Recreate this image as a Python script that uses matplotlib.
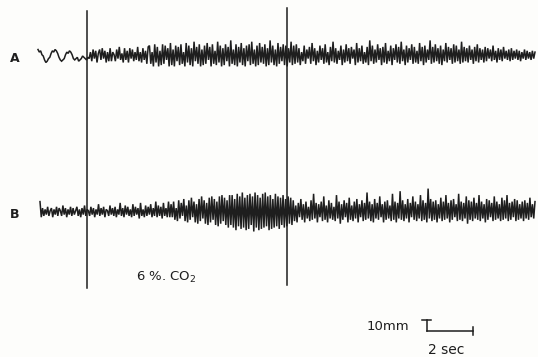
import numpy as np
import matplotlib
matplotlib.use("Agg")
import matplotlib.pyplot as plt

# Deflections (px, up positive)
trace_a = [5,3,4,1,0,-3,-5,-4,-2,-1,2,4,3,5,4,2,-1,-3,-4,-3,-2,1,3,2,4,3,1,-2,-3,-2,-1,-4,-3,-2,0,-1,-2,-3,-1,-2,
           3,-4,5,-2,4,-5,2,5,-3,6,-2,4,-5,3,-4,6,-4,3,1,-4,5,-2,7,-3,2,-5,6,-3,4,-5,6,-2,5,-4,3,-3,7,-4,3,-5,6,-3,4,-6,7,
           8,-6,3,-8,9,-5,7,-8,4,-7,9,-6,8,-3,6,-8,10,-7,5,-8,8,-4,7,-7,9,-6,3,-8,10,-5,8,-7,6,-8,11,-4,7,-6,9,-8,5,-7,8,-6,10,-3,7,-8,9,-6,4,-7,11,-5,8,-8,6,-7,9,-4,7,-8,12,-6,5,-7,9,-8,7,-5,10,-7,6,-8,8,-4,9,-7,11,-6,5,-8,8,-7,10,-5,7,-6,9,-8,6,-7,12,-5,8,-7,5,-8,10,-6,7,-4,9,-7,8,-8,6,-5,11,-7,8,-6,
           9,-5,6,-7,3,-4,8,-6,5,-2,7,-6,10,-4,6,-7,4,-5,8,-3,6,-6,9,-5,3,-7,7,-4,11,-5,6,-6,4,-3,8,-7,5,-5,9,-4,6,-6,7,-2,5,-7,10,-5,6,-4,8,-6,3,-5,7,-7,12,-4,8,-6,5,-5,9,-3,6,-7,7,-5,10,-6,4,-4,8,-7,6,-3,9,-5,7,-6,11,-4,5,-7,8,-5,6,-3,9,-6,7,-5,4,-6,10,-4,7,-7,8,-5,5,-3,12,-6,7,-5,9,-4,6,-6,8,-7,5,-4,10,-5,7,-3,6,-6,9,-5,8,-4,5,-6,11,-5,7,-4,6,-5,8,-3,5,-6,7,-4,9,-5,6,-3,5,-5,7,-4,6,-2,5,-4,8,-3,4,-5,6,-3,5,-4,7,-2,4,-3,5,-4,6,-3,4,-2,5,-3,4,-4,3,-2,5,-3,4,-2,3,-3,4,-2,3]
trace_b = [8,-4,3,-3,2,-2,4,-3,1,3,-4,2,-2,4,-3,3,1,-3,5,-2,3,-4,2,-2,4,-3,3,-2,1,4,-3,2,-4,3,-2,5,-3,2,1,-3,4,-2,3,-4,2,-2,6,-3,3,-2,4,-4,2,1,-3,5,-2,3,-3,4,-4,2,-2,7,-3,3,-4,5,-2,4,-3,2,-4,6,-3,4,-2,3,-5,7,-3,2,-4,5,-3,4,-2,6,-4,3,-3,8,-4,5,-3,4,-5,7,-3,3,-4,8,-4,
           6,-4,8,-6,3,-7,9,-5,7,-3,10,-7,5,-8,9,-6,11,-4,8,-8,6,-9,10,-7,12,-5,9,-9,7,-10,11,-8,12,-6,10,-10,8,-11,12,-9,13,-7,11,-10,9,-12,13,-10,
           13,-12,10,-14,14,-11,12,-13,15,-12,11,-14,13,-13,14,-10,12,-15,15,-12,13,-14,11,-13,14,-12,15,-11,12,-14,13,-13,10,-12,14,-11,12,-13,11,-10,13,-12,10,-11,12,-9,11,-10,
           9,-7,5,-8,7,-4,10,-6,6,-8,8,-5,4,-7,9,-6,14,-5,7,-8,6,-4,8,-7,12,-6,5,-8,9,-5,7,-6,4,-7,13,-5,8,-9,6,-6,9,-4,7,-8,11,-6,5,-7,8,-5,10,-8,6,-4,9,-7,7,-6,15,-5,8,-7,6,-8,10,-5,7,-6,12,-4,6,-8,8,-6,9,-5,5,-7,14,-6,8,-8,7,-5,16,-6,9,-7,6,-5,10,-8,7,-4,12,-6,8,-7,6,-5,13,-7,9,-6,7,-8,18,-5,10,-7,8,-6,9,-8,6,-5,11,-7,8,-6,13,-5,7,-8,9,-6,10,-4,6,-7,14,-6,8,-7,7,-5,12,-9,9,-6,8,-7,11,-5,7,-6,13,-7,8,-5,6,-8,10,-6,9,-4,7,-7,12,-6,8,-5,6,-7,11,-6,9,-5,13,-7,7,-6,8,-4,10,-7,9,-6,6,-5,8,-7,9,-5,7,-6,11,-4,6,-5,8]
trace_labels = ["A", "B"]
gas_label = "6 %. CO$_2$"
scale_v_label = "10mm"
scale_h_label = "2 sec"

W, H = 538, 357
GAIN = 1.3
fig = plt.figure(figsize=(W/100, H/100), dpi=100)
fig.patch.set_facecolor("#fdfdfb")
ax = fig.add_axes([0, 0, 1, 1])
ax.set_xlim(0, W)
ax.set_ylim(H, 0)
ax.axis("off")
ink = "#1e1e1e"

for vals, base, x0, x1 in [(trace_a, 56, 38, 535), (trace_b, 212, 40, 535)]:
    v = np.array(vals, dtype=float) * GAIN
    x = np.linspace(x0, x1, len(v))
    ax.plot(x, base - v, color=ink, lw=1.1, solid_joinstyle="miter")

ax.plot([87, 87], [11, 288], color=ink, lw=1.1)
ax.plot([287, 287], [8, 285], color=ink, lw=1.1)

ax.text(15, 59, trace_labels[0], fontsize=9, fontweight="bold", color=ink, ha="center", va="center")
ax.text(15, 215, trace_labels[1], fontsize=9, fontweight="bold", color=ink, ha="center", va="center")
ax.text(136, 277, gas_label, fontsize=9.5, color=ink, ha="left", va="center")
ax.text(367, 327, scale_v_label, fontsize=9.5, color=ink, ha="left", va="center")
ax.text(446, 350, scale_h_label, fontsize=10, color=ink, ha="center", va="center")

# scale bar
ax.plot([422, 431], [320, 320], color=ink, lw=1.1)
ax.plot([426.5, 426.5], [320, 331], color=ink, lw=1.1)
ax.plot([426.5, 473], [331, 331], color=ink, lw=1.1)
ax.plot([473, 473], [327, 335], color=ink, lw=1.1)

fig.savefig("out.png", dpi=100, facecolor=fig.get_facecolor())
